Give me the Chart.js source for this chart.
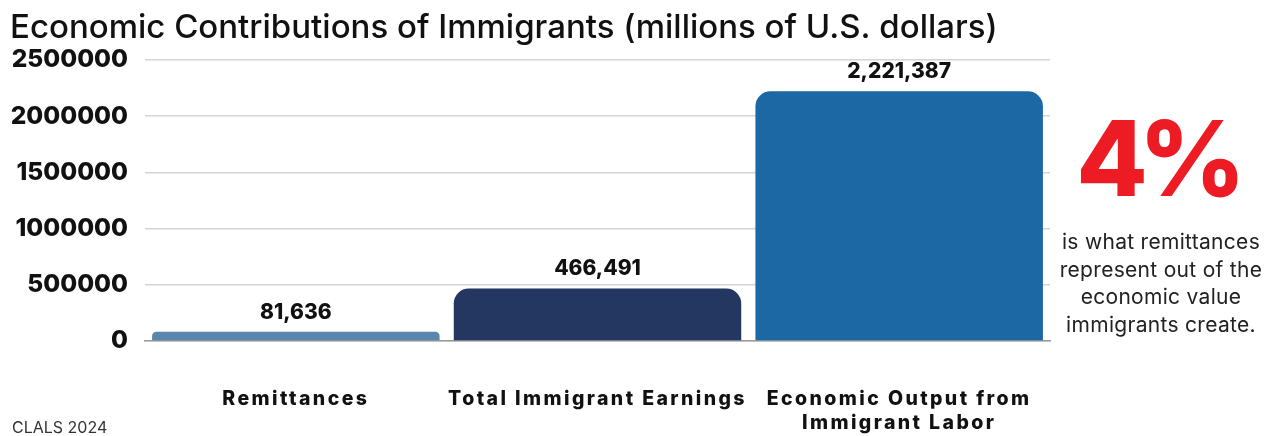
<!DOCTYPE html>
<html>
<head>
<meta charset="utf-8">
<script src="https://cdn.jsdelivr.net/npm/chart.js@4.4.1/dist/chart.umd.min.js"></script>
<style>
  html, body { margin: 0; padding: 0; background: #fff; }
  #wrap { position: relative; width: 1272px; height: 436px; overflow: hidden; font-family: Inter, "Noto Sans", sans-serif; }
  #chart-box { position: absolute; left: 0; top: 0; width: 1060px; height: 436px; }
  #big { position: absolute; left: 1050px; top: 106px; width: 222px; text-align: center;
         font-size: 104px; font-weight: 800; line-height: 1; color: #ed1c24; letter-spacing: -9px; text-indent: -9px; }
  #note { position: absolute; left: 1050px; top: 228px; width: 222px; text-align: center;
          font-size: 21px; line-height: 27.7px; color: #222; letter-spacing: 0.3px; }
  #source { position: absolute; left: 12px; top: 418px; font-size: 16px; line-height: 18px; color: #333; }
</style>
</head>
<body>
<div id="wrap">
  <div id="chart-box"><canvas id="contributions"></canvas></div>
  <div id="big">4%</div>
  <div id="note">is what remittances<br>represent out of the<br>economic value<br>immigrants create.</div>
  <div id="source">CLALS 2024</div>
</div>
<script>
const categories = ['Remittances', 'Total Immigrant Earnings', ['Economic Output from', 'Immigrant Labor']];
const values = [81636, 466491, 2221387];
const barColors = ['#5a86ad', '#233760', '#1c68a4'];
const yTicks = [0, 500000, 1000000, 1500000, 2000000, 2500000];

// value labels above the bars, then spaced-out category labels
const valueLabels = {
  id: 'valueLabels',
  afterDatasetsDraw(chart) {
    const ctx = chart.ctx;
    const meta = chart.getDatasetMeta(0);
    ctx.save();
    ctx.font = '800 21px Inter, sans-serif';
    ctx.fillStyle = '#111';
    ctx.textAlign = 'center';
    ctx.textBaseline = 'bottom';
    meta.data.forEach((bar, i) => {
      ctx.fillText(values[i].toLocaleString('en-US'), bar.x, bar.y - 9);
    });
    ctx.restore();
    ctx.letterSpacing = '2.4px';
  },
  afterDraw(chart) {
    chart.ctx.letterSpacing = '0px';
  }
};

const canvas = document.getElementById('contributions');
const chart = new Chart(canvas, {
  type: 'bar',
  data: {
    labels: categories,
    datasets: [{
      data: values,
      backgroundColor: barColors,
      borderRadius: {topLeft: 15, topRight: 15},
      borderSkipped: 'bottom',
      barPercentage: 0.953,
      categoryPercentage: 1
    }]
  },
  options: {
    responsive: true,
    maintainAspectRatio: false,
    animation: false,
    layout: {padding: {left: 10, right: 10, top: 0, bottom: 0}},
    plugins: {
      legend: {display: false},
      tooltip: {enabled: false},
      title: {
        display: true,
        text: 'Economic Contributions of Immigrants (millions of U.S. dollars)',
        align: 'start',
        color: '#111',
        font: {family: 'Inter', size: 33, weight: 500, lineHeight: 1.2},
        padding: {top: 8, bottom: 12.4}
      }
    },
    scales: {
      x: {
        grid: {display: false, drawTicks: false},
        border: {display: true, color: '#9a9a9a', width: 1.5},
        ticks: {
          z: 1,
          color: '#111',
          padding: 46,
          maxRotation: 0,
          autoSkip: false,
          font: {family: 'Inter', size: 19.5, weight: 800, lineHeight: 1.25}
        },
        afterFit: s => { s.height = 95; }
      },
      y: {
        min: 0,
        max: 2500000,
        afterBuildTicks: s => { s.ticks = yTicks.map(v => ({value: v})); },
        grid: {color: '#d4d4d4', lineWidth: 1.5, drawTicks: false},
        border: {display: false},
        ticks: {
          color: '#111',
          padding: 17,
          font: {family: 'Inter', size: 24.5, weight: 800},
          callback: v => String(v)
        },
        afterFit: s => { s.width = 135; }
      }
    }
  },
  plugins: [valueLabels]
});
</script>
</body>
</html>
